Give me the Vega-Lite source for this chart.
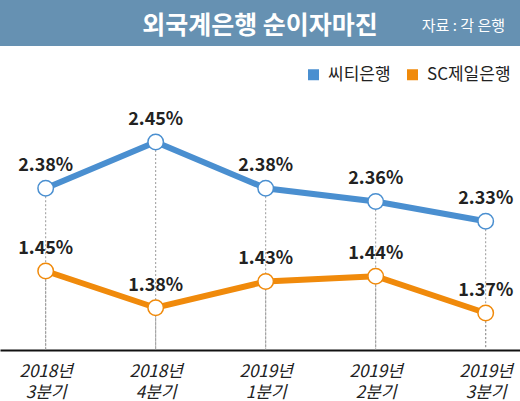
{
  "$schema": "https://vega.github.io/schema/vega-lite/v6.json",
  "description": "외국계은행 순이자마진",
  "padding": 0,
  "spacing": 0,
  "background": "white",
  "config": {
    "view": {"stroke": null},
    "font": "Noto Sans CJK KR",
    "concat": {"spacing": 0}
  },
  "resolve": {"legend": {"color": "independent"}, "scale": {"color": "independent"}},
  "datasets": {
    "nim": [
      {"q": "2018년 3분기", "bank": "씨티은행", "v": 2.38, "label": "2.38%"},
      {"q": "2018년 4분기", "bank": "씨티은행", "v": 2.45, "label": "2.45%"},
      {"q": "2019년 1분기", "bank": "씨티은행", "v": 2.38, "label": "2.38%"},
      {"q": "2019년 2분기", "bank": "씨티은행", "v": 2.36, "label": "2.36%"},
      {"q": "2019년 3분기", "bank": "씨티은행", "v": 2.33, "label": "2.33%"},
      {"q": "2018년 3분기", "bank": "SC제일은행", "v": 1.45, "label": "1.45%"},
      {"q": "2018년 4분기", "bank": "SC제일은행", "v": 1.38, "label": "1.38%"},
      {"q": "2019년 1분기", "bank": "SC제일은행", "v": 1.43, "label": "1.43%"},
      {"q": "2019년 2분기", "bank": "SC제일은행", "v": 1.44, "label": "1.44%"},
      {"q": "2019년 3분기", "bank": "SC제일은행", "v": 1.37, "label": "1.37%"}
    ]
  },
  "vconcat": [
    {
      "width": 520,
      "height": 46,
      "view": {"fill": "#6691b2", "stroke": null},
      "data": {"values": [{"t": "title"}]},
      "layer": [
        {
          "mark": {"type": "text", "fontSize": 25, "fontWeight": "bold", "color": "white", "dy": 3},
          "encoding": {"text": {"value": "외국계은행 순이자마진"}}
        },
        {
          "mark": {"type": "text", "fontSize": 15, "color": "white", "align": "right", "dx": 245, "dy": 3},
          "encoding": {"text": {"value": "자료 : 각 은행"}}
        }
      ]
    },
    {
      "width": 520,
      "height": 304,
      "data": {"name": "nim"},
      "encoding": {
        "x": {
          "field": "q",
          "type": "ordinal",
          "sort": null,
          "scale": {"type": "point", "padding": 0.3636, "align": 0.571},
          "axis": {
            "title": null,
            "grid": false,
            "ticks": false,
            "domainColor": "#111",
            "domainWidth": 2,
            "labelFontSize": 17,
            "labelFontStyle": "italic",
            "labelColor": "#222",
            "labelPadding": 13,
            "labelLineHeight": 21,
            "labelOverlap": false,
            "labelAngle": 0,
            "labelExpr": "split(datum.label, ' ')"
          }
        }
      },
      "layer": [
        {
          "transform": [{"filter": "datum.bank === '씨티은행'"}],
          "encoding": {
            "y": {
              "field": "v",
              "type": "quantitative",
              "scale": {"domain": [2.1349, 2.5955], "zero": false, "nice": false},
              "axis": null
            }
          },
          "layer": [
            {
              "mark": {"type": "rule", "color": "#999", "strokeDash": [2, 2], "strokeWidth": 1},
              "encoding": {"y2": {"datum": 2.1349}}
            },
            {
              "mark": {"type": "line", "strokeWidth": 6, "color": "#4a8fd0"},
              "encoding": {}
            },
            {
              "transform": [{"filter": "false"}],
              "mark": {"type": "point", "shape": "square", "filled": true, "opacity": 1},
              "encoding": {
                "color": {
                  "field": "bank",
                  "type": "nominal",
                  "scale": {"domain": ["씨티은행", "SC제일은행"], "range": ["#4a8fd0", "#f08a0b"]},
                  "legend": {
                    "title": null,
                    "orient": "none",
                    "legendX": 305,
                    "legendY": 20,
                    "direction": "horizontal",
                    "padding": 0,
                    "symbolType": "square",
                    "symbolSize": 121,
                    "symbolStrokeWidth": 0,
                    "labelFontSize": 17,
                    "labelColor": "#222",
                    "labelOffset": 6,
                    "columnPadding": 13
                  }
                }
              }
            },
            {
              "mark": {"type": "point", "shape": "circle", "filled": true, "fill": "white", "stroke": "#4a8fd0", "strokeWidth": 1.5, "size": 240, "opacity": 1}
            },
            {
              "mark": {"type": "text", "dy": -17, "baseline": "alphabetic", "fontSize": 18, "fontWeight": "bold", "color": "#222"},
              "encoding": {"text": {"field": "label"}}
            }
          ]
        },
        {
          "transform": [{"filter": "datum.bank === 'SC제일은행'"}],
          "encoding": {
            "y": {
              "field": "v",
              "type": "quantitative",
              "scale": {"domain": [1.2995, 1.8786], "zero": false, "nice": false},
              "axis": null
            }
          },
          "layer": [
            {
              "mark": {"type": "rule", "color": "#999", "strokeDash": [2, 2], "strokeWidth": 1},
              "encoding": {"y2": {"datum": 1.2995}}
            },
            {
              "mark": {"type": "line", "strokeWidth": 6, "color": "#f08a0b"},
              "encoding": {}
            },
            {
              "mark": {"type": "point", "shape": "circle", "filled": true, "fill": "white", "stroke": "#f08a0b", "strokeWidth": 1.5, "size": 240, "opacity": 1}
            },
            {
              "mark": {"type": "text", "dy": -17, "baseline": "alphabetic", "fontSize": 18, "fontWeight": "bold", "color": "#222"},
              "encoding": {"text": {"field": "label"}}
            }
          ]
        }
      ],
      "resolve": {"scale": {"y": "independent"}}
    }
  ]
}
